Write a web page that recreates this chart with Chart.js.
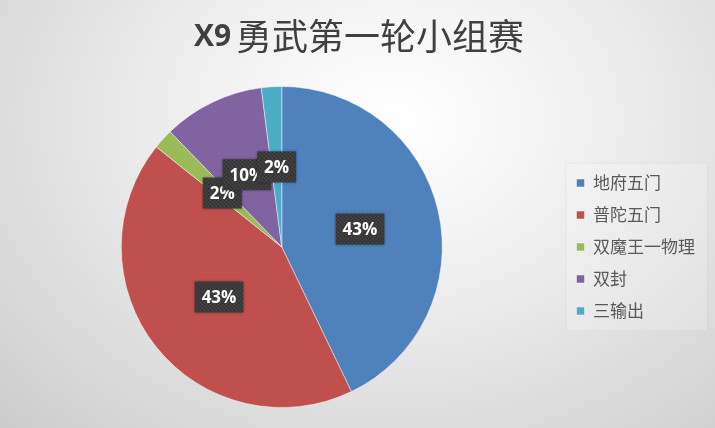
<!DOCTYPE html>
<html>
<head>
<meta charset="utf-8">
<script src="https://cdn.jsdelivr.net/npm/chart.js@4.4.1/dist/chart.umd.min.js"></script>
<style>
  html, body { margin: 0; padding: 0; }
  body {
    width: 715px; height: 428px; overflow: hidden;
    background: radial-gradient(ellipse farthest-corner at 55% 28%, #ffffff 0%, #f4f4f4 28%, #e0e0e0 65%, #cccccc 100%);
  }
  #wrap { position: relative; width: 715px; height: 428px; }
</style>
</head>
<body>
<div id="wrap"><canvas id="c" width="715" height="428"></canvas></div>
<script>
// ---- data ----
const titleLatin = 'X9';
const titleCJK = '勇武第一轮小组赛';
const categories = ['地府五门', '普陀五门', '双魔王一物理', '双封', '三输出'];
const counts = [21, 21, 1, 5, 1];
const sliceColors = ['#4F81BD', '#C0504D', '#9BBB59', '#8064A2', '#4BACC6'];

// pattern for the label boxes
function makePattern(ctx) {
  const p = document.createElement('canvas');
  p.width = 4; p.height = 4;
  const g = p.getContext('2d');
  g.fillStyle = '#3b3b3b'; g.fillRect(0, 0, 4, 4);
  g.fillStyle = '#2f2f2f'; g.fillRect(0, 0, 1, 1); g.fillRect(2, 2, 1, 1);
  g.fillStyle = '#474747'; g.fillRect(2, 0, 1, 1); g.fillRect(0, 2, 1, 1);
  return ctx.createPattern(p, 'repeat');
}

const titlePlugin = {
  id: 'mixedTitle',
  afterDraw(chart) {
    const ctx = chart.ctx;
    ctx.save();
    ctx.fillStyle = '#404040';
    ctx.textBaseline = 'alphabetic';
    ctx.textAlign = 'left';
    ctx.font = 'bold 30px "Open Sans", "Liberation Sans", sans-serif';
    ctx.fillText(titleLatin, 194, 46);
    ctx.font = '36px "Noto Sans CJK SC", sans-serif';
    ctx.fillText(titleCJK, 236, 50);
    ctx.restore();
  }
};

const labelPlugin = {
  id: 'boxLabels',
  afterDatasetsDraw(chart) {
    const ctx = chart.ctx;
    const meta = chart.getDatasetMeta(0);
    const data = chart.data.datasets[0].data;
    const total = data.reduce((a, b) => a + b, 0);
    const pattern = makePattern(ctx);
    ctx.save();
    ctx.font = 'bold 17px "Open Sans", "Liberation Sans", sans-serif';
    ctx.textAlign = 'center';
    ctx.textBaseline = 'middle';
    meta.data.forEach((arc, i) => {
      const pct = Math.round(data[i] / total * 100) + '%';
      const pos = arc.getCenterPoint();
      const w = ctx.measureText(pct).width + 14;
      const h = 31;
      ctx.save();
      ctx.shadowColor = 'rgba(0,0,0,0.35)';
      ctx.shadowBlur = 3;
      ctx.fillStyle = pattern;
      ctx.fillRect(pos.x - w / 2, pos.y - h / 2, w, h);
      ctx.restore();
      ctx.fillStyle = '#ffffff';
      ctx.fillText(pct, pos.x, pos.y + 1);
    });
    ctx.restore();
  }
};

const legendBgPlugin = {
  id: 'legendBg',
  beforeDraw(chart) {
    const lg = chart.legend;
    if (!lg || !lg.legendHitBoxes || !lg.legendHitBoxes.length) return;
    const hb = lg.legendHitBoxes;
    const top = hb[0].top - 12;
    const bottom = hb[hb.length - 1].top + hb[hb.length - 1].height + 12;
    const left = hb[0].left - 11;
    const right = lg.right + 3;
    const ctx = chart.ctx;
    ctx.save();
    ctx.fillStyle = 'rgba(255,255,255,0.18)';
    ctx.strokeStyle = 'rgba(0,0,0,0.05)';
    ctx.lineWidth = 1;
    ctx.fillRect(left, top, right - left, bottom - top);
    ctx.strokeRect(left + 0.5, top + 0.5, right - left - 1, bottom - top - 1);
    ctx.restore();
  }
};

new Chart(document.getElementById('c'), {
  type: 'pie',
  data: {
    labels: categories,
    datasets: [{
      data: counts,
      backgroundColor: sliceColors,
      borderColor: 'rgba(255,255,255,0.45)',
      borderWidth: 1
    }]
  },
  options: {
    responsive: false,
    animation: false,
    layout: { padding: { top: 86, bottom: 20, left: 2, right: 10 } },
    plugins: {
      title: { display: false },
      tooltip: { enabled: false },
      legend: {
        position: 'right',
        labels: {
          boxWidth: 8,
          boxHeight: 8,
          padding: 15,
          color: '#595959',
          font: { size: 17, family: '"Noto Sans CJK SC", sans-serif' }
        }
      }
    }
  },
  plugins: [legendBgPlugin, labelPlugin, titlePlugin]
});
</script>
</body>
</html>
